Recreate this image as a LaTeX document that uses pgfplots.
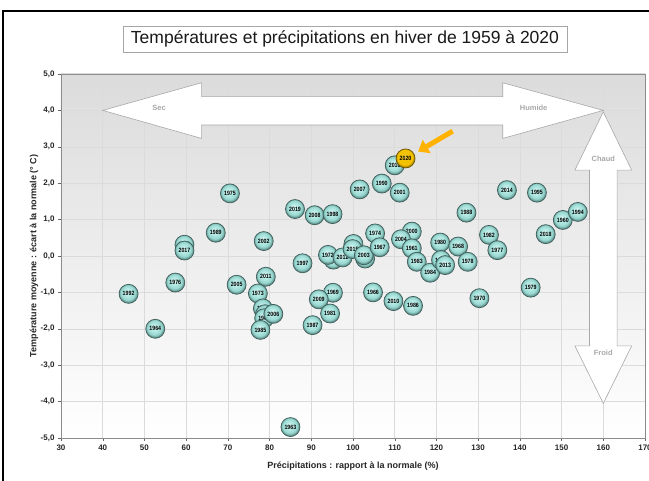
\documentclass[border=0pt]{standalone}
\usepackage{pgfplots}
\pgfplotsset{compat=1.18}
\usepackage{pgfplotstable}
\usepackage{fontspec}
\setmainfont{Liberation Sans}
\usetikzlibrary{arrows.meta}
\definecolor{bubhi}{HTML}{F0FCFB}
\definecolor{bubmid}{HTML}{BDEEE9}
\definecolor{bubrim}{HTML}{98D8D1}
\definecolor{bubedge}{HTML}{5E8E89}
\definecolor{bubline}{HTML}{3F5F5B}
\definecolor{goldhi}{HTML}{FFE680}
\definecolor{goldmid}{HTML}{F2C200}
\definecolor{goldedge}{HTML}{A87F00}
\definecolor{goldline}{HTML}{6B5200}
\definecolor{arrgray}{HTML}{A8A8A8}
\definecolor{orangearr}{HTML}{FFB300}
\pgfdeclareradialshading{bubbleshade}{\pgfpoint{-3bp}{5bp}}{color(0bp)=(bubhi); color(7bp)=(bubmid); color(19bp)=(bubrim); color(25bp)=(bubedge); color(50bp)=(bubedge)}
\pgfdeclareradialshading{goldshade}{\pgfpoint{-3bp}{5bp}}{color(0bp)=(goldhi); color(8bp)=(goldmid); color(20bp)=(goldmid); color(25bp)=(goldedge); color(50bp)=(goldedge)}
\pgfdeclareplotmark{bubble}{%
  \pgfpathcircle{\pgfpointorigin}{\pgfplotmarksize}%
  \pgfshadepath{bubbleshade}{0}\pgfusepath{discard}%
  \pgfsetstrokecolor{bubline}\pgfsetlinewidth{0.7pt}%
  \pgfpathcircle{\pgfpointorigin}{\pgfplotmarksize}%
  \pgfusepath{stroke}}
\pgfdeclareplotmark{goldbubble}{%
  \pgfpathcircle{\pgfpointorigin}{\pgfplotmarksize}%
  \pgfshadepath{goldshade}{0}\pgfusepath{discard}%
  \pgfsetstrokecolor{goldline}\pgfsetlinewidth{0.7pt}%
  \pgfpathcircle{\pgfpointorigin}{\pgfplotmarksize}%
  \pgfusepath{stroke}}
\pgfplotstableread{
x y year
46.2 -1.04 1992
52.6 -2.00 1964
57.4 -0.73 1976
59.6 0.31 1993
59.6 0.15 2017
67.1 0.64 1989
70.5 1.72 1975
72.1 -0.79 2005
78.6 0.41 2002
79.1 -0.57 2011
77.2 -1.03 1973
78.4 -1.44 1971
78.9 -1.60 1962
78.7 -1.71 1965
80.9 -1.59 2006
77.8 -2.03 1985
85.0 -4.70 1963
87.9 -0.20 1997
90.3 -1.90 1987
95.2 -1.01 1969
91.8 -1.19 2009
94.5 -1.58 1981
86.1 1.29 2019
90.8 1.12 2008
95.1 1.15 1998
95.3 -0.10 1959
94.0 0.03 1972
97.5 -0.04 2012
100.1 0.33 1999
99.9 0.19 2015
102.9 -0.07 1991
102.6 0.02 2003
105.3 0.62 1974
106.4 0.24 1967
114.1 0.67 2000
111.5 0.46 2004
114.1 0.21 1961
115.3 -0.16 1983
118.5 -0.46 1984
120.9 0.37 1980
121.1 -0.11 1996
122.1 -0.25 2013
125.2 0.26 1968
127.5 -0.16 1978
132.6 0.58 1982
134.6 0.16 1977
146.2 0.60 2018
142.6 -0.87 1979
130.3 -1.16 1970
104.8 -1.00 1966
109.7 -1.24 2010
114.4 -1.37 1986
127.2 1.19 1988
136.9 1.81 2014
144.1 1.74 1995
150.3 0.99 1960
153.9 1.21 1994
101.6 1.83 2007
106.9 1.99 1990
111.2 1.74 2001
110.0 2.49 2016
}\winters
\pgfplotstableread{
x y year
112.6 2.68 2020
}\latest
\begin{document}
\begin{tikzpicture}
\path[use as bounding box, fill=white] (0pt,0pt) rectangle (649pt,481pt);
\begin{axis}[
  at={(61pt,43pt)}, anchor=south west,
  scale only axis, width=584pt, height=364pt,
  xmin=30, xmax=170, ymin=-5, ymax=5,
  xtick={30,40,...,170}, ytick={-5,-4,...,5},
  grid=major, major grid style={black!14, line width=0.5pt},
  axis background/.style={shade, top color=black!14, middle color=black!3, bottom color=white},
  axis line style={black!45},
  tick align=outside, major tick length=3pt, tick style={black!60},
  xtick pos=left, ytick pos=left,
  clip=false,
  /pgf/number format/assume math mode=true,
  yticklabel style={/pgf/number format/.cd, fixed, fixed zerofill, precision=1, use comma},
  xticklabel style={/pgf/number format/.cd, fixed, precision=0},
  ticklabel style={font=\bfseries\fontsize{8}{9}\selectfont, text=black!85},
  xlabel={Précipitations : rapport à la normale (\%)},
  ylabel={Température moyenne : écart à la normale (° C)},
  label style={font=\bfseries\fontsize{9}{10}\selectfont, text=black!85},
  xlabel style={at={(axis description cs:0.5,-0.078)}, anchor=center},
  ylabel style={at={(axis description cs:-0.046,0.5)}, anchor=center},
]
% block arrows
\filldraw[fill=white, draw=arrgray, line width=0.6pt]
  (axis cs:40,4.0) -- (axis cs:63.7,4.76) -- (axis cs:63.7,4.38) -- (axis cs:135.9,4.38)
  -- (axis cs:135.9,4.76) -- (axis cs:160,4.0) -- (axis cs:135.9,3.23) -- (axis cs:135.9,3.6)
  -- (axis cs:63.7,3.6) -- (axis cs:63.7,3.23) -- cycle;
\filldraw[fill=white, draw=arrgray, line width=0.6pt]
  (axis cs:160,3.96) -- (axis cs:166.8,2.36) -- (axis cs:163.3,2.36) -- (axis cs:163.3,-2.47)
  -- (axis cs:166.8,-2.47) -- (axis cs:160,-4.05) -- (axis cs:153.2,-2.47) -- (axis cs:156.7,-2.47)
  -- (axis cs:156.7,2.36) -- (axis cs:153.2,2.36) -- cycle;
\node[text=arrgray, font=\bfseries\fontsize{7.5}{8}\selectfont] at (axis cs:53.5,4.06) {Sec};
\node[text=arrgray, font=\bfseries\fontsize{7.5}{8}\selectfont] at (axis cs:143.3,4.06) {Humide};
\node[text=arrgray, font=\bfseries\fontsize{7.5}{8}\selectfont] at (axis cs:160,2.68) {Chaud};
\node[text=arrgray, font=\bfseries\fontsize{7.5}{8}\selectfont] at (axis cs:160,-2.67) {Froid};
% bubbles
\addplot[only marks, mark=bubble, mark size=9.5pt,
  nodes near coords, point meta=explicit symbolic,
  nodes near coords style={anchor=center, inner sep=0pt, xscale=0.85, font=\bfseries\fontsize{6.2}{6.5}\selectfont, text=black}]
  table[x=x, y=y, meta=year] {\winters};
\addplot[only marks, mark=goldbubble, mark size=9.5pt,
  nodes near coords, point meta=explicit symbolic,
  nodes near coords style={anchor=center, inner sep=0pt, xscale=0.85, font=\bfseries\fontsize{6.2}{6.5}\selectfont, text=black}]
  table[x=x, y=y, meta=year] {\latest};
\draw[orangearr, line width=5pt, -{Triangle[length=10pt, width=15pt]}]
  (axis cs:123.9,3.43) -- (axis cs:115.6,2.87);
\end{axis}
\node[draw=black!35, fill=white, line width=0.6pt, minimum width=444pt, minimum height=26pt,
  inner sep=0pt, font=\fontsize{17.5}{20}\selectfont, text=black!90] at (345pt,442pt)
  {Températures et précipitations en hiver de 1959 à 2020};
\draw[line width=1.5pt, black] (3pt,-20pt) rectangle (700pt,470pt);
\end{tikzpicture}
\end{document}
